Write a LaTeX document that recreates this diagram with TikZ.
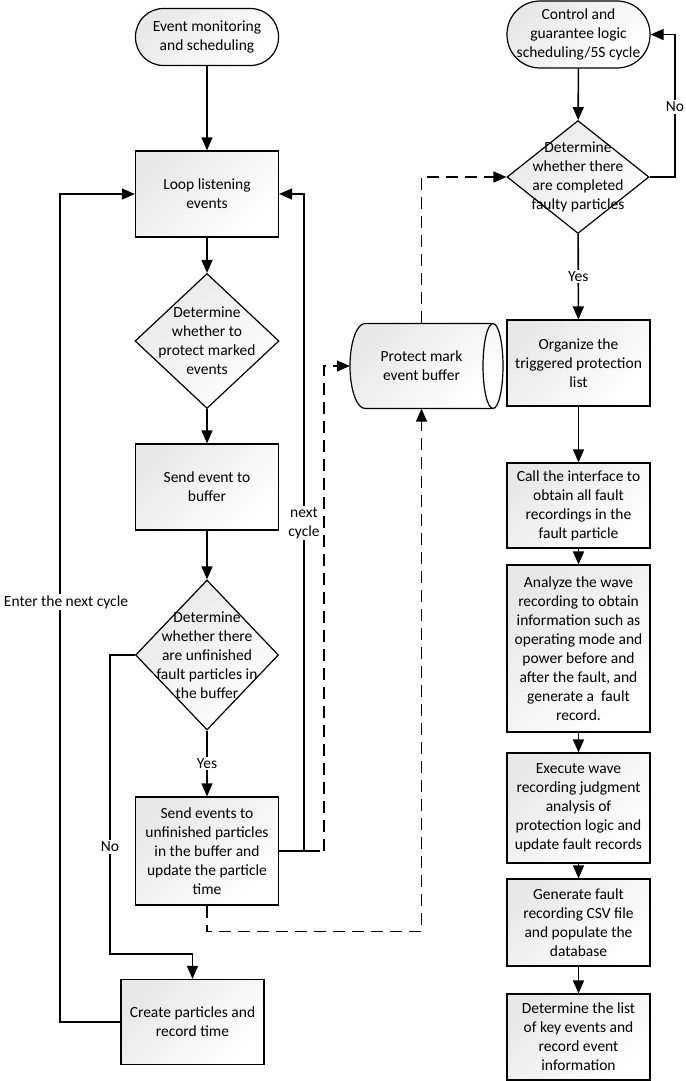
\documentclass[tikz,border=0pt]{standalone}
\usepackage{fontspec}
\setmainfont{Carlito}
\usetikzlibrary{arrows.meta,shapes.geometric}
\begin{document}
\begin{tikzpicture}[x=1pt,y=-1pt,
  base/.style={font=\fontsize{15.5}{19}\selectfont, align=center, inner sep=0pt},
  shadefill/.style={top color=black!9, bottom color=white, shading angle=45},
  box/.style={base, draw, line width=1.2pt, shadefill, minimum width=143pt},
  term/.style={box},
  dia/.style={draw, line width=1.2pt, shape=diamond, inner sep=0pt, shadefill},
  dtext/.style={base},
  conn/.style={line width=1.6pt, -{Triangle[length=13pt,width=11pt]}},
  plainline/.style={line width=1.6pt},
  dconn/.style={line width=1.6pt, dash pattern=on 12pt off 7pt, -{Triangle[length=13pt,width=11pt]}},
  lbl/.style={base, fill=white, inner sep=1.5pt}]
\useasboundingbox (0,0) rectangle (685,1081);

% left column
\node[term, rounded corners=28pt, minimum height=57pt] (term1) at (207,37) {Event monitoring\\and scheduling};
\node[box, minimum height=86pt] (loop) at (207,194) {Loop listening\\events};
\node[dia, minimum width=144pt, minimum height=135pt,
  label={[dtext]center:Determine\\whether to\\protect marked\\events}] (d1) at (207,341) {};
\node[box, minimum height=86pt] (send) at (207,487) {Send event to\\buffer};
\node[dia, minimum width=143pt, minimum height=150pt,
  label={[dtext]center:Determine\\whether there\\are unfinished\\fault particles in\\the buffer}] (d2) at (207,655) {};
\node[box, minimum height=108pt] (sendp) at (207,851) {Send events to\\unfinished particles\\in the buffer and\\update the particle\\time};
\node[box, minimum height=85pt] (create) at (192.5,1022) {Create particles and\\record time};

% cylinder
\draw[line width=1.2pt, shadefill] (493,323.5) arc[start angle=-90, end angle=90, x radius=10, y radius=42.5]
  -- (365,408.5) arc[start angle=90, end angle=270, x radius=15, y radius=42.5] -- cycle;
\draw[line width=1.2pt] (493,323.5) arc[start angle=-90, end angle=-270, x radius=10, y radius=42.5];
\node[base, minimum width=143pt, minimum height=85pt] (cyl) at (421.5,366) {Protect mark\\event buffer};

% right column
\node[term, rounded corners=33pt, minimum height=67pt] (term2) at (578.5,34.5) {Control and\\guarantee logic\\scheduling/5S cycle};
\node[dia, minimum width=142pt, minimum height=113pt,
  label={[dtext]center:Determine\\whether there\\are completed\\faulty particles}] (d3) at (578,177) {};
\node[box, minimum height=86pt] (org) at (578.5,363) {Organize the\\triggered protection\\list};
\node[box, minimum height=85pt] (call) at (578.5,505.5) {Call the interface to\\obtain all fault\\recordings in the\\fault particle};
\node[box, minimum height=167pt] (analyze) at (578.5,648.5) {Analyze the wave\\recording to obtain\\information such as\\operating mode and\\power before and\\after the fault, and\\generate a~ fault\\record.};
\node[box, minimum height=110pt] (exec) at (578.5,808) {Execute wave\\recording judgment\\analysis of\\protection logic and\\update fault records};
\node[box, minimum height=87pt] (gen) at (578.5,922.5) {Generate fault\\recording CSV file\\and populate the\\database};
\node[box, minimum height=86pt] (det) at (578.5,1037) {Determine the list\\of key events and\\record event\\information};

% coordinates
\coordinate (noc) at (110,954);
\coordinate (lpl) at (60,194);
\coordinate (ncc) at (304,194);
\coordinate (sj) at (320,851);
\coordinate (ds) at (324,851);
\coordinate (noR) at (675,177);

% left connectors
\draw[conn] (term1) -- (loop);
\draw[conn] (loop) -- (d1);
\draw[conn] (d1) -- (send);
\draw[conn] (send) -- (d2);
\draw[conn] (d2) -- (sendp) node[lbl, midway] (yes1) {Yes};
\draw[conn] (d2.west) -| (noc) -| (create.north);
\node[lbl] (no1) at (110,847) {No};
\draw[conn] (create.west) -| (lpl) -- (loop.west);
\node[lbl] (enter) at (66,602) {Enter the next cycle};
\draw[conn] (sendp.east) -| (ncc) -- (loop.east);
\node[lbl] (nextc) at (304,523) {next\\cycle};
\draw[plainline] (sendp.east) -- (sj);
\draw[dconn] (ds) |- (cyl.west);
\draw[dconn] (sendp.south) -- ++(0,26) -| (cyl.south);
\draw[dconn] (cyl.north) |- (d3.west);

% right connectors
\draw[conn] (term2) -- (d3);
\draw[conn] (d3.east) -- (noR) |- (term2.east);
\node[lbl] (no2) at (675,107) {No};
\draw[conn] (d3) -- (org) node[lbl, midway] (yes2) {Yes};
\draw[conn] (org) -- (call);
\draw[conn] (call) -- (analyze);
\draw[conn] (analyze) -- (exec);
\draw[conn] (exec) -- (gen);
\draw[conn] (gen) -- (det);
\end{tikzpicture}
\end{document}
